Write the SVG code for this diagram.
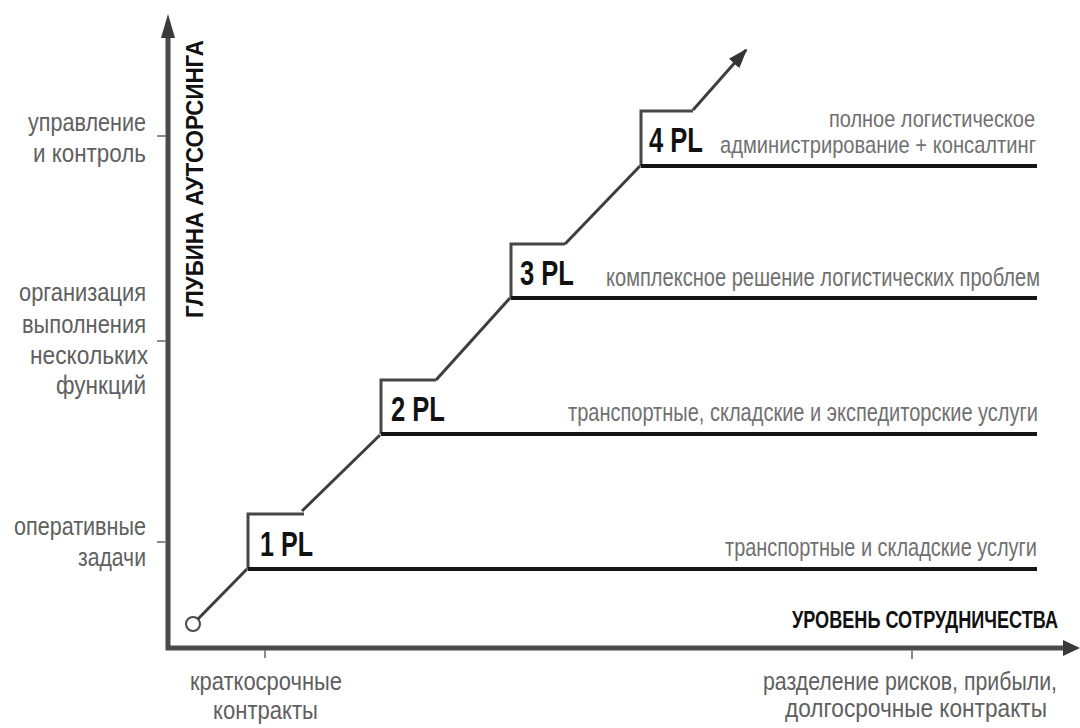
<svg xmlns="http://www.w3.org/2000/svg" width="1080" height="728" viewBox="0 0 1080 728">
  <defs>
    <marker id="tip" markerUnits="userSpaceOnUse" markerWidth="20" markerHeight="16" viewBox="0 0 20 16" refX="18" refY="8" orient="auto">
      <path d="M0,1 L20,8 L0,15 Z" fill="#333"/>
    </marker>
    <style>
      text { font-family: "Liberation Sans", Arial, sans-serif; }
      .lvl { font-size: 35px; font-weight: bold; fill: #111; }
      .desc { font-size: 25px; fill: #707070; }
      .desc-sm { font-size: 23px; fill: #707070; }
      .side { font-size: 25px; fill: #606060; }
      .axis-title { font-size: 24px; font-weight: bold; fill: #111; }
      .axis { fill: none; stroke: #4a4a4a; stroke-width: 5; stroke-linejoin: miter; }
      .tick { stroke: #8a8a8a; stroke-width: 2; }
      .frame { fill: none; stroke: #474747; stroke-width: 3; }
      .base { fill: none; stroke: #151515; stroke-width: 4; }
      .link { fill: none; stroke: #3d3d3d; stroke-width: 3; }
    </style>
  </defs>

  <rect width="1080" height="728" fill="#ffffff"/>

  <!-- axes; narrow lettering is made by a horizontal scale of 0.72 (regular) / 0.68 (bold) -->
  <g id="axes">
    <path class="axis" d="M168,36 V648 H1064"/>
    <path d="M168,14 L175,38 L161,38 Z" fill="#3a3a3a"/>
    <path d="M1080,648 L1063,640 L1063,656 Z" fill="#3a3a3a"/>
    <line class="tick" x1="157" y1="136" x2="166" y2="136"/>
    <line class="tick" x1="157" y1="341" x2="166" y2="341"/>
    <line class="tick" x1="157" y1="542" x2="166" y2="542"/>
    <line class="tick" x1="265" y1="650" x2="265" y2="658"/>
    <line class="tick" x1="912" y1="650" x2="912" y2="659"/>
    <text class="axis-title" transform="translate(203,318) rotate(-90) scale(0.68,1)" textLength="408.8" lengthAdjust="spacingAndGlyphs">ГЛУБИНА АУТСОРСИНГА</text>
    <text class="axis-title" transform="translate(792,628) scale(0.68,1)" textLength="391.2" lengthAdjust="spacingAndGlyphs">УРОВЕНЬ СОТРУДНИЧЕСТВА</text>
  </g>

  <!-- vertical scale labels -->
  <g id="depth-labels">
    <text class="side" transform="translate(28,131) scale(0.72,1)" textLength="163.9" lengthAdjust="spacingAndGlyphs">управление</text>
    <text class="side" transform="translate(33,162) scale(0.72,1)" textLength="156.9" lengthAdjust="spacingAndGlyphs">и контроль</text>
    <text class="side" transform="translate(19,301) scale(0.72,1)" textLength="176.4" lengthAdjust="spacingAndGlyphs">организация</text>
    <text class="side" transform="translate(22,333) scale(0.72,1)" textLength="172.2" lengthAdjust="spacingAndGlyphs">выполнения</text>
    <text class="side" transform="translate(30,364) scale(0.72,1)" textLength="163.9" lengthAdjust="spacingAndGlyphs">нескольких</text>
    <text class="side" transform="translate(56,394) scale(0.72,1)" textLength="125" lengthAdjust="spacingAndGlyphs">функций</text>
    <text class="side" transform="translate(14,535) scale(0.72,1)" textLength="183.3" lengthAdjust="spacingAndGlyphs">оперативные</text>
    <text class="side" transform="translate(78,566) scale(0.72,1)" textLength="94.4" lengthAdjust="spacingAndGlyphs">задачи</text>
  </g>

  <!-- horizontal scale labels -->
  <g id="cooperation-labels">
    <text class="side" transform="translate(190,690) scale(0.72,1)" textLength="211.1" lengthAdjust="spacingAndGlyphs">краткосрочные</text>
    <text class="side" transform="translate(213,719) scale(0.72,1)" textLength="145.8" lengthAdjust="spacingAndGlyphs">контракты</text>
    <text class="side" transform="translate(763,690) scale(0.72,1)" textLength="408.3" lengthAdjust="spacingAndGlyphs">разделение рисков, прибыли,</text>
    <text class="side" transform="translate(785,717) scale(0.72,1)" textLength="363.9" lengthAdjust="spacingAndGlyphs">долгосрочные контракты</text>
  </g>

  <!-- staircase connectors -->
  <g id="connectors">
    <circle cx="193" cy="624" r="7" fill="#ffffff" stroke="#4a4a4a" stroke-width="2"/>
    <line class="link" x1="198" y1="619" x2="247" y2="569"/>
    <line class="link" x1="302" y1="511" x2="380" y2="435"/>
    <line class="link" x1="436" y1="380" x2="510" y2="298"/>
    <line class="link" x1="565" y1="244" x2="640" y2="166"/>
    <line class="link" x1="693" y1="110" x2="746" y2="50" marker-end="url(#tip)"/>
  </g>

  <!-- levels -->
  <g id="level-1pl">
    <path class="frame" d="M248,569 V514 H304"/>
    <path class="base" d="M248,569 H1037"/>
    <text class="lvl" transform="translate(260,556) scale(0.68,1)" textLength="77.9" lengthAdjust="spacingAndGlyphs">1 PL</text>
    <text class="desc" transform="translate(725,556) scale(0.72,1)" textLength="433.3" lengthAdjust="spacingAndGlyphs">транспортные и складские услуги</text>
  </g>

  <g id="level-2pl">
    <path class="frame" d="M381,434 V380 H436"/>
    <path class="base" d="M381,434 H1037"/>
    <text class="lvl" transform="translate(391,421) scale(0.68,1)" textLength="79.4" lengthAdjust="spacingAndGlyphs">2 PL</text>
    <text class="desc" transform="translate(568,421) scale(0.72,1)" textLength="652.8" lengthAdjust="spacingAndGlyphs">транспортные, складские и экспедиторские услуги</text>
  </g>

  <g id="level-3pl">
    <path class="frame" d="M511,298 V244 H565"/>
    <path class="base" d="M511,298 H1037"/>
    <text class="lvl" transform="translate(520,285) scale(0.68,1)" textLength="79.4" lengthAdjust="spacingAndGlyphs">3 PL</text>
    <text class="desc" transform="translate(606,286) scale(0.72,1)" textLength="602.8" lengthAdjust="spacingAndGlyphs">комплексное решение логистических проблем</text>
  </g>

  <g id="level-4pl">
    <path class="frame" d="M641,166 V111 H693"/>
    <path class="base" d="M641,166 H1037"/>
    <text class="lvl" transform="translate(649,152) scale(0.68,1)" textLength="79.4" lengthAdjust="spacingAndGlyphs">4 PL</text>
    <text class="desc-sm" transform="translate(829,127) scale(0.72,1)" textLength="286.1" lengthAdjust="spacingAndGlyphs">полное логистическое</text>
    <text class="desc-sm" transform="translate(720,153) scale(0.72,1)" textLength="438.9" lengthAdjust="spacingAndGlyphs">администрирование + консалтинг</text>
  </g>
</svg>
